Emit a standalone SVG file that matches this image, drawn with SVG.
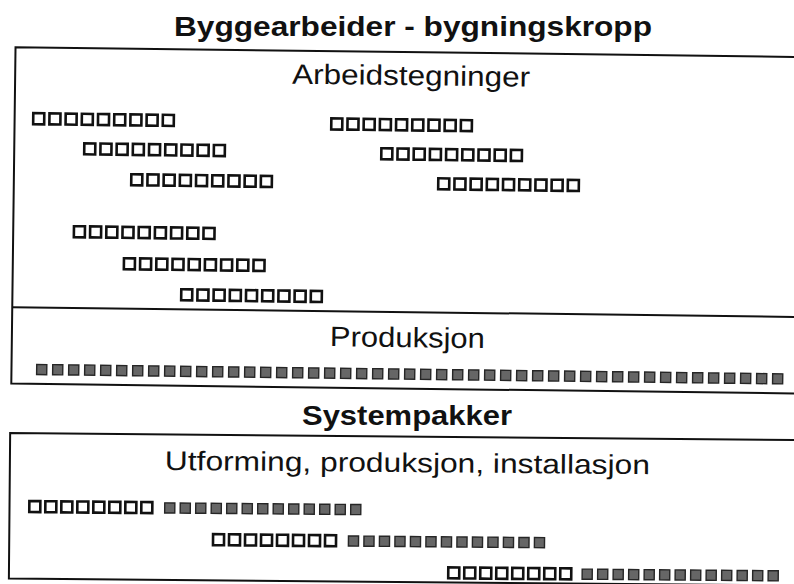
<svg xmlns="http://www.w3.org/2000/svg" xmlns:xlink="http://www.w3.org/1999/xlink" width="794" height="584" viewBox="0 0 794 584">
<style>
  .frame{fill:none;stroke:#111;stroke-width:2}
  .title{font-family:"Liberation Sans",Arial,sans-serif;font-weight:bold;font-size:28px;fill:#111;text-anchor:middle}
  .label{font-family:"Liberation Sans",Arial,sans-serif;font-size:28px;fill:#111;text-anchor:middle}
  .open{fill:#fff;stroke:#111;stroke-width:2.6}
  .full{fill:#666;stroke:#262626;stroke-width:1.4}
</style>
<defs>
  <rect id="o" x="1.3" y="1.3" width="11" height="11" class="open"/>
  <rect id="f" x="0.7" y="0.7" width="10.1" height="10.1" class="full"/>
  <g id="o9">
    <use xlink:href="#o" x="0"/><use xlink:href="#o" x="16.2"/><use xlink:href="#o" x="32.4"/>
    <use xlink:href="#o" x="48.6"/><use xlink:href="#o" x="64.8"/><use xlink:href="#o" x="81"/>
    <use xlink:href="#o" x="97.2"/><use xlink:href="#o" x="113.4"/><use xlink:href="#o" x="129.6"/>
  </g>
  <g id="o8">
    <use xlink:href="#o" x="0"/><use xlink:href="#o" x="16"/><use xlink:href="#o" x="32"/>
    <use xlink:href="#o" x="48"/><use xlink:href="#o" x="64"/><use xlink:href="#o" x="80"/>
    <use xlink:href="#o" x="96"/><use xlink:href="#o" x="112"/>
  </g>
  <g id="f13">
    <use xlink:href="#f" x="0"/><use xlink:href="#f" x="15.5"/><use xlink:href="#f" x="31"/>
    <use xlink:href="#f" x="46.5"/><use xlink:href="#f" x="62"/><use xlink:href="#f" x="77.5"/>
    <use xlink:href="#f" x="93"/><use xlink:href="#f" x="108.5"/><use xlink:href="#f" x="124"/>
    <use xlink:href="#f" x="139.5"/><use xlink:href="#f" x="155"/><use xlink:href="#f" x="170.5"/>
    <use xlink:href="#f" x="186"/>
  </g>
  <g id="f16">
    <use xlink:href="#f" x="0"/><use xlink:href="#f" x="16"/><use xlink:href="#f" x="32"/>
    <use xlink:href="#f" x="48"/><use xlink:href="#f" x="64"/><use xlink:href="#f" x="80"/>
    <use xlink:href="#f" x="96"/><use xlink:href="#f" x="112"/><use xlink:href="#f" x="128"/>
    <use xlink:href="#f" x="144"/><use xlink:href="#f" x="160"/><use xlink:href="#f" x="176"/>
    <use xlink:href="#f" x="192"/><use xlink:href="#f" x="208"/><use xlink:href="#f" x="224"/>
    <use xlink:href="#f" x="240"/>
  </g>
  <g id="f15">
    <use xlink:href="#f" x="0"/><use xlink:href="#f" x="16"/><use xlink:href="#f" x="32"/>
    <use xlink:href="#f" x="48"/><use xlink:href="#f" x="64"/><use xlink:href="#f" x="80"/>
    <use xlink:href="#f" x="96"/><use xlink:href="#f" x="112"/><use xlink:href="#f" x="128"/>
    <use xlink:href="#f" x="144"/><use xlink:href="#f" x="160"/><use xlink:href="#f" x="176"/>
    <use xlink:href="#f" x="192"/><use xlink:href="#f" x="208"/><use xlink:href="#f" x="224"/>
  </g>
  <g id="prodrow">
    <use xlink:href="#f16" x="0"/>
    <use xlink:href="#f16" x="256"/>
    <use xlink:href="#f15" x="512"/>
  </g>
</defs>

<g id="title-byggearbeider">
  <text class="title" x="413" y="36" textLength="478" lengthAdjust="spacingAndGlyphs">Byggearbeider - bygningskropp</text>
</g>

<g id="box-byggearbeider" transform="rotate(0.72 400 290)">
  <path class="frame" d="M812,52 L12.5,52 L12.5,388.5 L812,388.5"/>
  <line class="frame" x1="12.5" y1="312" x2="812" y2="312"/>
  <g id="section-arbeidstegninger">
    <text class="label" x="408.5" y="85" textLength="238" lengthAdjust="spacingAndGlyphs">Arbeidstegninger</text>
    <use xlink:href="#o9" x="29.8" y="116.5"/>
    <use xlink:href="#o9" x="81.2" y="146"/>
    <use xlink:href="#o9" x="128.6" y="176.3"/>
    <use xlink:href="#o9" x="327.9" y="118"/>
    <use xlink:href="#o9" x="378.3" y="147.2"/>
    <use xlink:href="#o9" x="435.6" y="176.5"/>
    <use xlink:href="#o9" x="71.9" y="229"/>
    <use xlink:href="#o9" x="122.3" y="260.4"/>
    <use xlink:href="#o9" x="180" y="290.7"/>
  </g>
  <g id="section-produksjon">
    <text class="label" x="408" y="347" textLength="155" lengthAdjust="spacingAndGlyphs">Produksjon</text>
    <use xlink:href="#prodrow" x="37" y="368.3"/>
  </g>
</g>

<g id="title-systempakker">
  <text class="title" x="407" y="425" textLength="210" lengthAdjust="spacingAndGlyphs">Systempakker</text>
</g>

<g id="box-systempakker" transform="rotate(0.5 400 510)">
  <path class="frame" d="M812,436.5 L9.5,436.5 L9.5,582 L812,582"/>
  <text class="label" x="407" y="472" style="font-size:27px" textLength="485" lengthAdjust="spacingAndGlyphs">Utforming, produksjon, installasjon</text>
  <g id="package-1">
    <use xlink:href="#o8" x="28" y="503"/>
    <use xlink:href="#f13" x="164" y="504.2"/>
  </g>
  <g id="package-2">
    <use xlink:href="#o8" x="212" y="534.5"/>
    <use xlink:href="#f13" x="348" y="535.7"/>
  </g>
  <g id="package-3">
    <use xlink:href="#o8" x="447.5" y="565.6"/>
    <use xlink:href="#f13" x="582" y="566.8"/>
  </g>
</g>
</svg>
